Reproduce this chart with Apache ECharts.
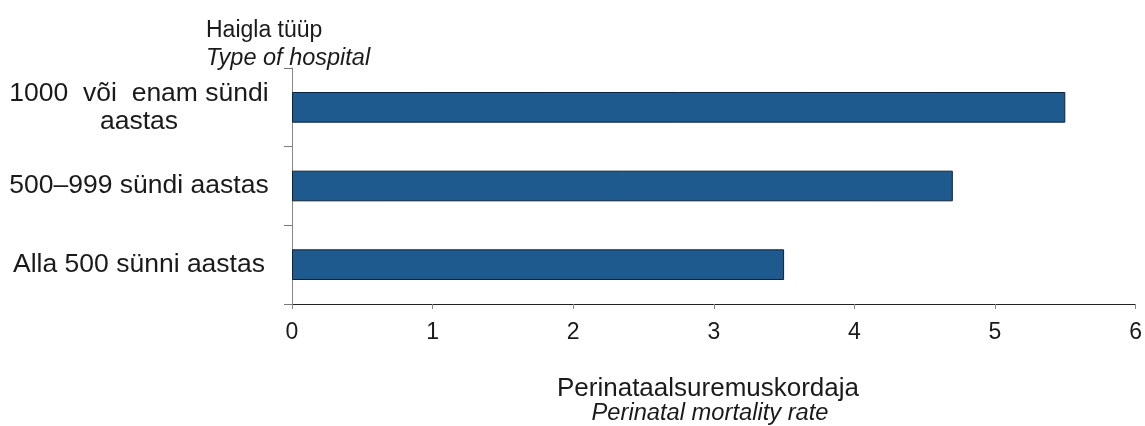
<!DOCTYPE html>
<html><head><meta charset="utf-8">
<script src="https://cdn.jsdelivr.net/npm/echarts@6/dist/echarts.min.js"></script>
<style>html,body{margin:0;padding:0;background:#fff}#c{width:1145px;height:426px}</style>
</head><body><div id="c"></div>
<script>
const categories = ["1000  või  enam sündi\naastas", "500–999 sündi aastas", "Alla 500 sünni aastas"];
const values = [5.5, 4.7, 3.5];
const xTicks = [0, 1, 2, 3, 4, 5, 6];
const yTitle = "Haigla tüüp";
const yTitleEn = "Type of hospital";
const xTitle = "Perinataalsuremuskordaja";
const xTitleEn = "Perinatal mortality rate";

const FONT = '"Liberation Sans", Arial, sans-serif';
const chart = echarts.init(document.getElementById('c'), null, {renderer: 'canvas'});
chart.setOption({
  animation: false,
  backgroundColor: '#fff',
  textStyle: {fontFamily: FONT},
  grid: {left: 292, right: 8, top: 68, bottom: 122, containLabel: false},
  title: [
    {text: yTitle, left: 201, top: 14, textStyle: {fontFamily: FONT, fontSize: 23, fontWeight: 'normal', color: '#1a1a1a'}},
    {text: yTitleEn, left: 201, top: 42, textStyle: {fontFamily: FONT, fontSize: 23.5, fontStyle: 'italic', fontWeight: 'normal', color: '#1a1a1a'}},
    {text: xTitle, left: 703, textAlign: 'center', top: 371, textStyle: {fontFamily: FONT, fontSize: 26, fontWeight: 'normal', color: '#1a1a1a'}},
    {text: xTitleEn, left: 705, textAlign: 'center', top: 396, textStyle: {fontFamily: FONT, fontSize: 23.7, fontStyle: 'italic', fontWeight: 'normal', color: '#1a1a1a'}}
  ],
  xAxis: {
    type: 'value', min: xTicks[0], max: xTicks[xTicks.length - 1], interval: 1,
    axisLine: {show: true, lineStyle: {color: '#222', width: 1}},
    axisTick: {show: true, length: 5, lineStyle: {color: '#888'}},
    splitLine: {show: false},
    axisLabel: {fontFamily: FONT, fontSize: 23, color: '#1a1a1a', margin: 17}
  },
  yAxis: {
    type: 'category', data: categories, inverse: true,
    axisLine: {show: true, lineStyle: {color: '#888', width: 1}},
    axisTick: {show: true, length: 8, lineStyle: {color: '#777'}},
    axisLabel: {fontFamily: FONT, fontSize: 26.5, color: '#1a1a1a', align: 'center', margin: 153, lineHeight: 28}
  },
  series: [{
    type: 'bar', data: values, barWidth: '39%',
    itemStyle: {color: '#1F5A8E', borderColor: '#0E2238', borderWidth: 1}
  }]
});
</script></body></html>
